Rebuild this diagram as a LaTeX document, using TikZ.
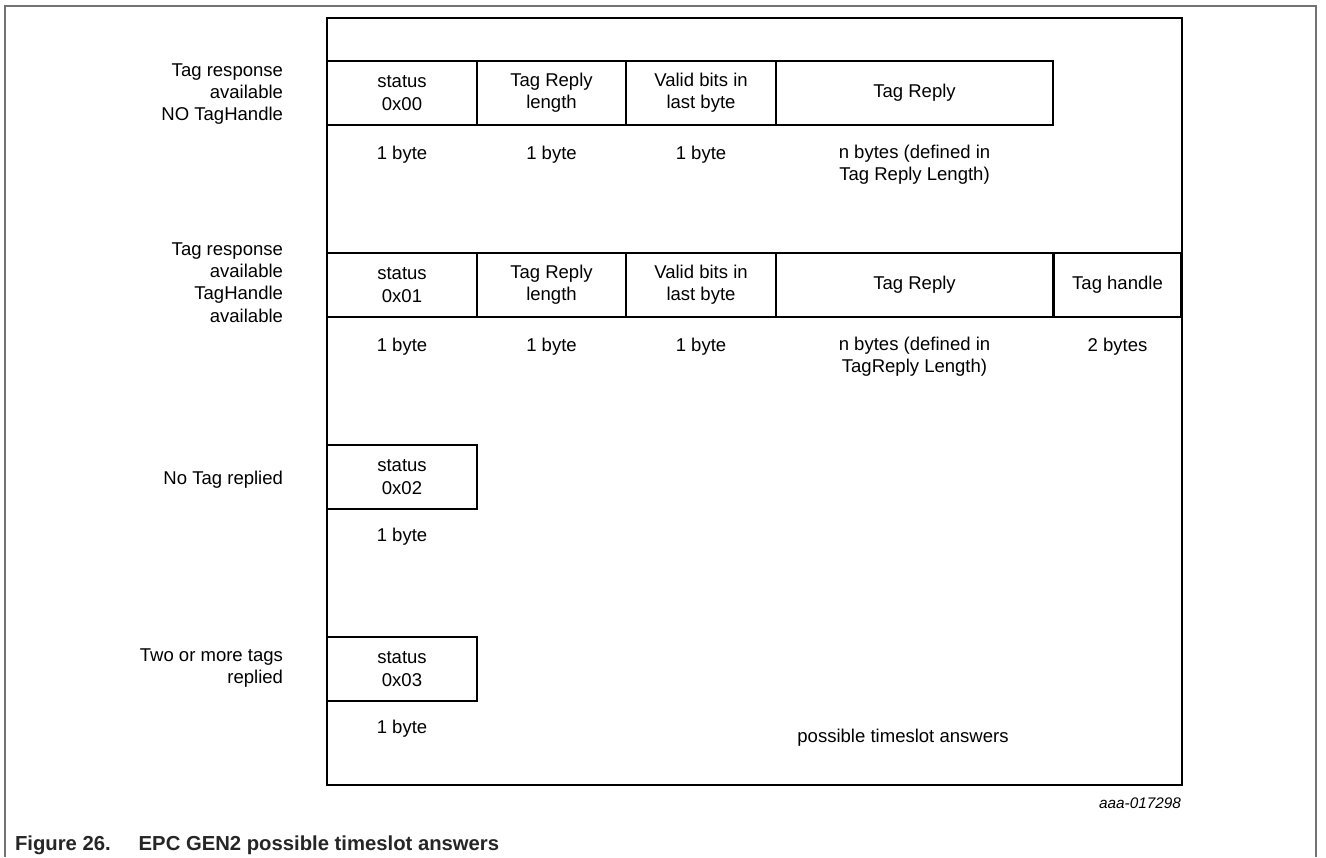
\documentclass[tikz,border=0pt]{standalone}
\usepackage{fontspec}
\setmainfont{Liberation Sans}
\begin{document}
\begin{tikzpicture}[x=0.75pt,y=-0.75pt,
  every node/.style={font=\fontsize{13.9}{16.8}\selectfont, inner sep=0pt, outer sep=0pt},
  cell/.style={draw=black, line width=2.2pt, align=center, minimum height=64*0.75pt},
  lbl/.style={align=right, anchor=east},
  txt/.style={align=center},
  frame/.style={draw=black!55, line width=1pt}
]
\useasboundingbox (0,0) rectangle (1326,857);
% outer gray frame (open at bottom)
\draw[frame] (5,857) -- (5,6) -- (1316,6) -- (1316,857);
% main box
\node[draw=black, line width=2.2pt, minimum width=855*0.75pt, minimum height=767*0.75pt] (main) at (754.5,401.5) {};

% row 1
\node[cell, minimum width=150*0.75pt] (s0) at (402,93) {status\\0x00};
\node[cell, minimum width=149*0.75pt] (l0) at (551.5,93) {Tag Reply\\length};
\node[cell, minimum width=150*0.75pt] (v0) at (701,93) {Valid bits in\\last byte};
\node[cell, minimum width=277*0.75pt] (r0) at (914.5,93) {Tag Reply};
\node[lbl] (lab0) at (283,94) {Tag response\\available\\NO TagHandle};
\node[txt] (b0a) at (402,155) {1 byte};
\node[txt] (b0b) at (551.5,155) {1 byte};
\node[txt] (b0c) at (701,155) {1 byte};
\node[txt, anchor=north] (b0d) at (914.5,145) {n bytes (defined in\\Tag Reply Length)};

% row 2
\node[cell, minimum width=150*0.75pt] (s1) at (402,285) {status\\0x01};
\node[cell, minimum width=149*0.75pt] (l1) at (551.5,285) {Tag Reply\\length};
\node[cell, minimum width=150*0.75pt] (v1) at (701,285) {Valid bits in\\last byte};
\node[cell, minimum width=277*0.75pt] (r1) at (914.5,285) {Tag Reply};
\node[cell, minimum width=128*0.75pt] (h1) at (1117.5,285) {Tag handle};
\node[lbl] (lab1) at (283,282.5) {Tag response\\available\\TagHandle\\available};
\node[txt] (b1a) at (402,347) {1 byte};
\node[txt] (b1b) at (551.5,347) {1 byte};
\node[txt] (b1c) at (701,347) {1 byte};
\node[txt, anchor=north] (b1d) at (914.5,337) {n bytes (defined in\\TagReply Length)};
\node[txt] (b1e) at (1117.5,347) {2 bytes};

% row 3
\node[cell, minimum width=150*0.75pt] (s2) at (402,477) {status\\0x02};
\node[lbl] (lab2) at (283,480) {No Tag replied};
\node[txt] (b2a) at (402,537) {1 byte};

% row 4
\node[cell, minimum width=150*0.75pt] (s3) at (402,669) {status\\0x03};
\node[lbl] (lab3) at (283,668) {Two or more tags\\replied};
\node[txt] (b3a) at (402,729) {1 byte};

\node[txt] (pta) at (903,738) {possible timeslot answers};
\node[anchor=east, font=\fontsize{11.5}{14}\selectfont\itshape] (ref) at (1181,803) {aaa-017298};
\node[anchor=west, text=black!85, font=\fontsize{15.2}{18}\selectfont\bfseries] (cap) at (15,845) {Figure 26.\hspace{21pt}EPC GEN2 possible timeslot answers};
\end{tikzpicture}
\end{document}
